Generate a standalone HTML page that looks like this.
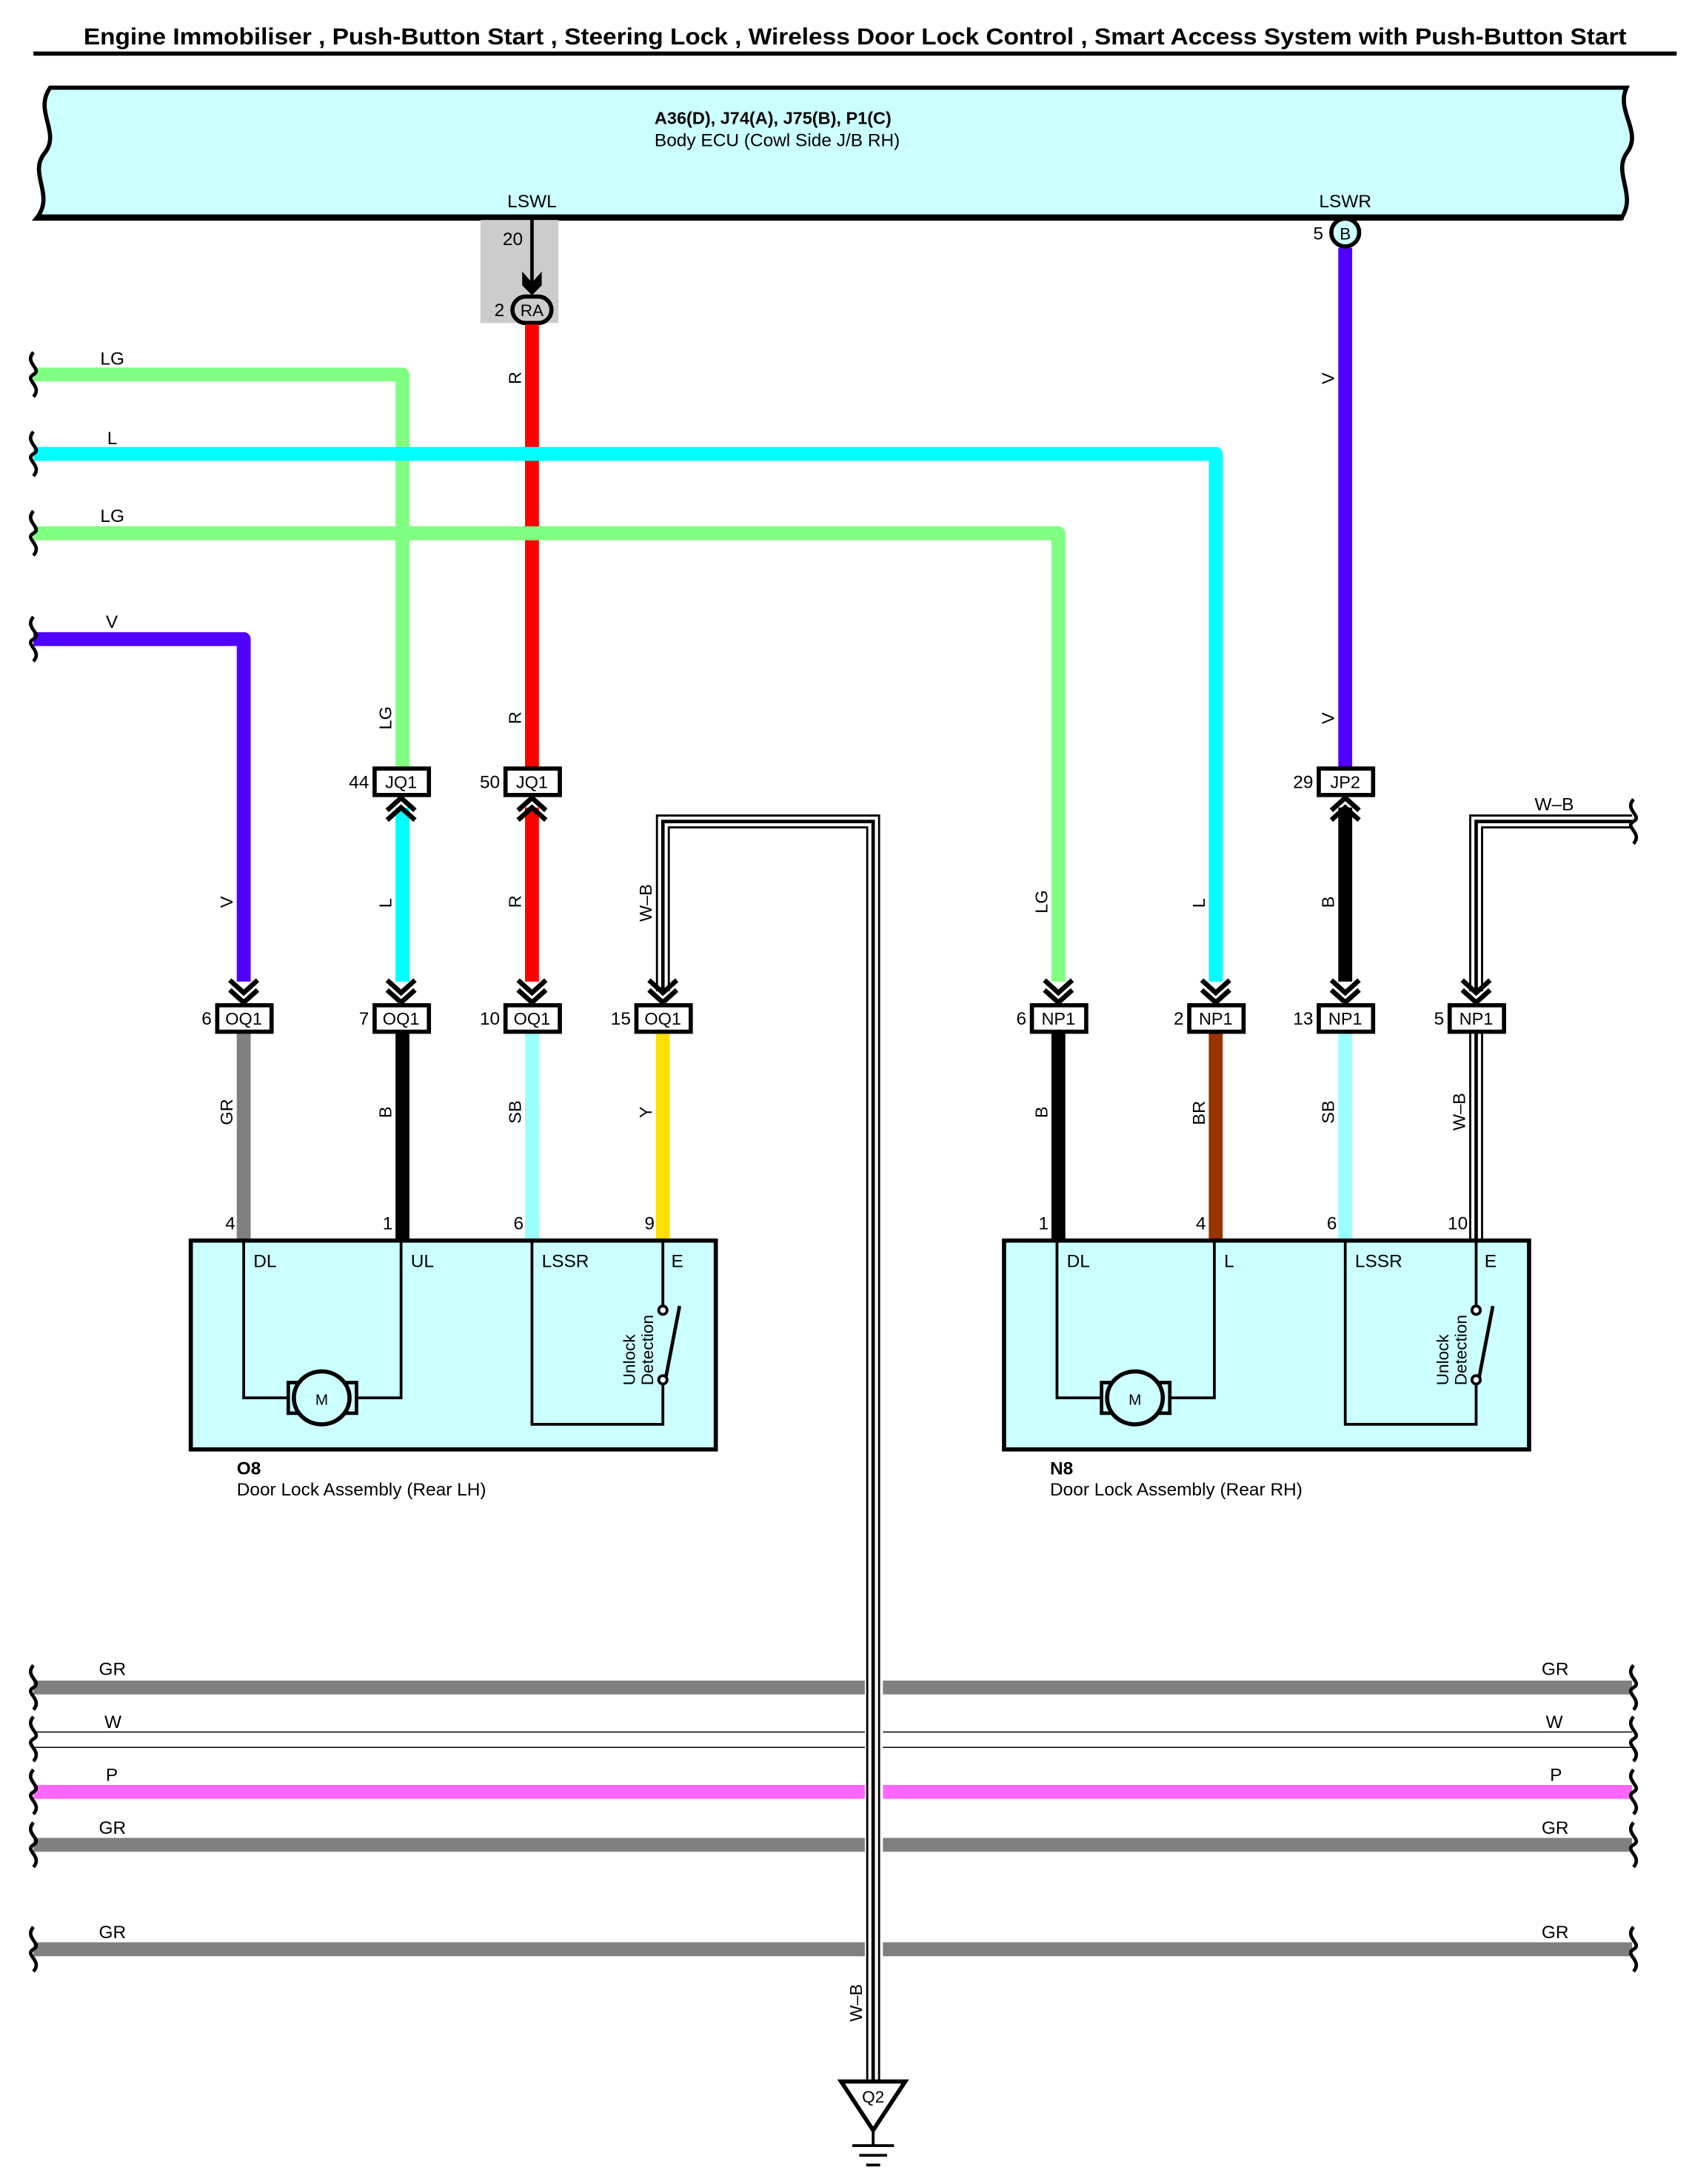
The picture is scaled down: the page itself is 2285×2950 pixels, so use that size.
<!DOCTYPE html>
<html><head><meta charset="utf-8"><style>html,body{margin:0;padding:0;background:#fff}svg{display:block}text{font-family:"Liberation Sans",Arial,sans-serif}</style></head>
<body>
<svg width="2285" height="2950" viewBox="0 0 1215 1568.6" xmlns="http://www.w3.org/2000/svg">
<defs>
<g id="cd" fill="none" stroke="#000" stroke-width="3.5"><polyline points="-10,-17 0,-8 10,-17"/><polyline points="-10,-10 0,-1 10,-10"/></g>
<g id="cu" fill="none" stroke="#000" stroke-width="3.5"><polyline points="-10,17 0,8 10,17"/><polyline points="-10,10 0,1 10,10"/></g>
<path id="brace" d="M0,-16 C-7,-8 7,-4 0,0 C-7,4 7,8 0,16" fill="none" stroke="#000" stroke-width="2.5"/>
</defs>
<g font-size="13" fill="#000">
<text x="60" y="32" textLength="1108" lengthAdjust="spacingAndGlyphs" font-weight="bold" font-size="16.5">Engine Immobiliser , Push-Button Start , Steering Lock , Wireless Door Lock Control , Smart Access System with Push-Button Start</text>
<rect x="24" y="37" width="1180" height="3" fill="#000"/>

<path d="M36,63 H1168 C1160,80 1180,95 1168,110 C1158,125 1176,140 1164,157 H26 C40,140 20,125 32,110 C44,95 24,80 36,63 Z" fill="#ccffff" stroke="#000" stroke-width="3"/>
<rect x="28" y="154" width="1138" height="4" fill="#000"/>
<text x="470" y="89" font-weight="bold" font-size="12.5">A36(D), J74(A), J75(B), P1(C)</text>
<text x="470" y="105">Body ECU (Cowl Side J/B RH)</text>
<text x="382" y="149" text-anchor="middle">LSWL</text>
<text x="966" y="149" text-anchor="middle">LSWR</text>

<rect x="345" y="158" width="56" height="74" fill="#cccccc"/>
<text x="361" y="176">20</text>
<line x1="382" y1="158" x2="382" y2="205" stroke="#000" stroke-width="2.5"/>
<path d="M375,195 L382,203 L389,195 L389,205 L382,212 L375,205 Z" fill="#000"/>
<rect x="368" y="213" width="28" height="19" rx="9.5" fill="#ccc" stroke="#000" stroke-width="3"/>
<text x="382" y="227" text-anchor="middle" font-size="12">RA</text>
<text x="355" y="227">2</text>

<g fill="none" stroke-linejoin="round" stroke-width="10">
<path d="M382,233 V552" stroke="#ff0000"/>
<path d="M966,178 V552" stroke="#5000ff"/>
<path d="M24,269 H289 V552" stroke="#80ff80"/>
<path d="M24,326 H873 V705" stroke="#00ffff"/>
<path d="M24,383 H760 V705" stroke="#80ff80"/>
<path d="M24,459 H175 V705" stroke="#5000ff"/>
<path d="M289,580 V705" stroke="#00ffff"/>
<path d="M382,580 V705" stroke="#ff0000"/>
<path d="M966,580 V705" stroke="#000"/>
<path d="M175,740 V891" stroke="#808080"/>
<path d="M289,740 V891" stroke="#000"/>
<path d="M382,740 V891" stroke="#99ffff"/>
<path d="M476,740 V891" stroke="#ffe000"/>
<path d="M760,740 V891" stroke="#000"/>
<path d="M873,740 V891" stroke="#993300"/>
<path d="M966,740 V891" stroke="#99ffff"/>
</g>
<circle cx="966" cy="167" r="10" fill="#ccffff" stroke="#000" stroke-width="3"/>
<text x="966" y="172" text-anchor="middle" font-size="12">B</text>
<text x="943" y="172">5</text>

<use href="#brace" x="24" y="269"/><use href="#brace" x="24" y="326"/><use href="#brace" x="24" y="383"/><use href="#brace" x="24" y="459"/>
<text x="72" y="262">LG</text><text x="77" y="319">L</text><text x="72" y="375">LG</text><text x="76" y="451">V</text>

<g fill="none">
<path d="M476,712 V590 H627 V1495" stroke="#000" stroke-width="10"/>
<path d="M476,712 V590 H627 V1495" stroke="#fff" stroke-width="7"/>
<path d="M476,712 V590 H627 V1495" stroke="#000" stroke-width="2.5"/>
<path d="M1060,712 V590 H1172" stroke="#000" stroke-width="10"/>
<path d="M1060,712 V590 H1172" stroke="#fff" stroke-width="7"/>
<path d="M1060,712 V590 H1172" stroke="#000" stroke-width="2.5"/>
<path d="M1060,740 V891" stroke="#000" stroke-width="10"/>
<path d="M1060,740 V891" stroke="#fff" stroke-width="7"/>
<path d="M1060,740 V891" stroke="#000" stroke-width="2.5"/>
</g>
<use href="#brace" x="1173" y="590"/>
<text x="1102" y="582">W–B</text>

<g fill="#fff" stroke="#000" stroke-width="3">
<rect x="269" y="552" width="39" height="19"/><rect x="363" y="552" width="39" height="19"/><rect x="947" y="552" width="39" height="19"/>
<rect x="156" y="722" width="39" height="19"/><rect x="269" y="722" width="39" height="19"/><rect x="363" y="722" width="39" height="19"/><rect x="457" y="722" width="39" height="19"/>
<rect x="741" y="722" width="39" height="19"/><rect x="854" y="722" width="39" height="19"/><rect x="947" y="722" width="39" height="19"/><rect x="1041" y="722" width="39" height="19"/>
</g>
<g text-anchor="middle" font-size="12.5">
<text x="288" y="566">JQ1</text><text x="382" y="566">JQ1</text><text x="966" y="566">JP2</text>
<text x="175" y="736">OQ1</text><text x="288" y="736">OQ1</text><text x="382" y="736">OQ1</text><text x="476" y="736">OQ1</text>
<text x="760" y="736">NP1</text><text x="873" y="736">NP1</text><text x="966" y="736">NP1</text><text x="1060" y="736">NP1</text>
</g>
<g text-anchor="end">
<text x="265" y="566">44</text><text x="359" y="566">50</text><text x="943" y="566">29</text>
<text x="152" y="736">6</text><text x="265" y="736">7</text><text x="359" y="736">10</text><text x="453" y="736">15</text>
<text x="737" y="736">6</text><text x="850" y="736">2</text><text x="943" y="736">13</text><text x="1037" y="736">5</text>
</g>
<use href="#cu" x="288" y="572"/><use href="#cu" x="382" y="572"/><use href="#cu" x="966" y="572"/>
<use href="#cd" x="175" y="721"/><use href="#cd" x="288" y="721"/><use href="#cd" x="382" y="721"/><use href="#cd" x="476" y="721"/>
<use href="#cd" x="760" y="721"/><use href="#cd" x="873" y="721"/><use href="#cd" x="966" y="721"/><use href="#cd" x="1060" y="721"/>

<g font-size="12.5">
<text transform="translate(374,276) rotate(-90)">R</text>
<text transform="translate(958,276) rotate(-90)">V</text>
<text transform="translate(281,524) rotate(-90)">LG</text>
<text transform="translate(374,520) rotate(-90)">R</text>
<text transform="translate(958,520) rotate(-90)">V</text>
<text transform="translate(167,652) rotate(-90)">V</text>
<text transform="translate(281,652) rotate(-90)">L</text>
<text transform="translate(374,652) rotate(-90)">R</text>
<text transform="translate(468,662) rotate(-90)">W–B</text>
<text transform="translate(752,656) rotate(-90)">LG</text>
<text transform="translate(865,652) rotate(-90)">L</text>
<text transform="translate(958,652) rotate(-90)">B</text>
<text transform="translate(167,808) rotate(-90)">GR</text>
<text transform="translate(281,803) rotate(-90)">B</text>
<text transform="translate(374,807) rotate(-90)">SB</text>
<text transform="translate(468,803) rotate(-90)">Y</text>
<text transform="translate(752,803) rotate(-90)">B</text>
<text transform="translate(865,808) rotate(-90)">BR</text>
<text transform="translate(958,807) rotate(-90)">SB</text>
<text transform="translate(1052,812) rotate(-90)">W–B</text>
<text transform="translate(619,1452) rotate(-90)">W–B</text>
</g>
<g text-anchor="end"><text x="169" y="883">4</text><text x="282" y="883">1</text><text x="376" y="883">6</text><text x="470" y="883">9</text>
<text x="753" y="883">1</text><text x="866" y="883">4</text><text x="960" y="883">6</text><text x="1054" y="883">10</text></g>

<rect x="137" y="891" width="377" height="150" fill="#ccffff" stroke="#000" stroke-width="3"/>
<g fill="none" stroke="#000" stroke-width="2">
<path d="M175,891 V1004 H207"/><path d="M288,891 V1004 H256"/>
<path d="M382,891 V1023 H476 V992"/><path d="M476,891 V940"/>
<line x1="478" y1="990" x2="488" y2="938" stroke-width="2.5"/>
<circle cx="476" cy="941" r="3" fill="#fff"/><circle cx="476" cy="991" r="3" fill="#fff"/>
<rect x="207" y="993" width="7" height="22" stroke-width="2.5"/><rect x="249" y="993" width="7" height="22" stroke-width="2.5"/>
<ellipse cx="231" cy="1004" rx="20" ry="19" fill="#ccffff" stroke-width="3"/>
</g>
<text x="231" y="1009" text-anchor="middle" font-size="11">M</text>
<text x="182" y="910">DL</text><text x="295" y="910">UL</text><text x="389" y="910">LSSR</text><text x="482" y="910">E</text>
<text transform="translate(456,995) rotate(-90)" font-size="12">Unlock</text>
<text transform="translate(469,995) rotate(-90)" font-size="12">Detection</text>
<text x="170" y="1059" font-weight="bold">O8</text>
<text x="170" y="1074">Door Lock Assembly (Rear LH)</text>

<rect x="721" y="891" width="377" height="150" fill="#ccffff" stroke="#000" stroke-width="3"/>
<g fill="none" stroke="#000" stroke-width="2">
<path d="M759,891 V1004 H791"/><path d="M872,891 V1004 H840"/>
<path d="M966,891 V1023 H1060 V992"/><path d="M1060,891 V940"/>
<line x1="1062" y1="990" x2="1072" y2="938" stroke-width="2.5"/>
<circle cx="1060" cy="941" r="3" fill="#fff"/><circle cx="1060" cy="991" r="3" fill="#fff"/>
<rect x="791" y="993" width="7" height="22" stroke-width="2.5"/><rect x="833" y="993" width="7" height="22" stroke-width="2.5"/>
<ellipse cx="815" cy="1004" rx="20" ry="19" fill="#ccffff" stroke-width="3"/>
</g>
<text x="815" y="1009" text-anchor="middle" font-size="11">M</text>
<text x="766" y="910">DL</text><text x="879" y="910">L</text><text x="973" y="910">LSSR</text><text x="1066" y="910">E</text>
<text transform="translate(1040,995) rotate(-90)" font-size="12">Unlock</text>
<text transform="translate(1053,995) rotate(-90)" font-size="12">Detection</text>
<text x="754" y="1059" font-weight="bold">N8</text>
<text x="754" y="1074">Door Lock Assembly (Rear RH)</text>

<g stroke-width="10">
<line x1="24" y1="1212" x2="621" y2="1212" stroke="#808080"/><line x1="634" y1="1212" x2="1172" y2="1212" stroke="#808080"/>
<line x1="24" y1="1287" x2="621" y2="1287" stroke="#ff66ff"/><line x1="634" y1="1287" x2="1172" y2="1287" stroke="#ff66ff"/>
<line x1="24" y1="1325" x2="621" y2="1325" stroke="#808080"/><line x1="634" y1="1325" x2="1172" y2="1325" stroke="#808080"/>
<line x1="24" y1="1400" x2="621" y2="1400" stroke="#808080"/><line x1="634" y1="1400" x2="1172" y2="1400" stroke="#808080"/>
</g>
<g stroke="#000" stroke-width="0.8">
<line x1="24" y1="1244" x2="621" y2="1244"/><line x1="634" y1="1244" x2="1172" y2="1244"/>
<line x1="24" y1="1255" x2="621" y2="1255"/><line x1="634" y1="1255" x2="1172" y2="1255"/>
</g>
<use href="#brace" x="24" y="1212"/><use href="#brace" x="24" y="1249"/><use href="#brace" x="24" y="1287"/><use href="#brace" x="24" y="1325"/><use href="#brace" x="24" y="1400"/>
<use href="#brace" x="1173" y="1212"/><use href="#brace" x="1173" y="1249"/><use href="#brace" x="1173" y="1287"/><use href="#brace" x="1173" y="1325"/><use href="#brace" x="1173" y="1400"/>
<text x="71" y="1203">GR</text><text x="75" y="1241">W</text><text x="76" y="1279">P</text><text x="71" y="1317">GR</text><text x="71" y="1392">GR</text>
<text x="1107" y="1203">GR</text><text x="1110" y="1241">W</text><text x="1113" y="1279">P</text><text x="1107" y="1317">GR</text><text x="1107" y="1392">GR</text>

<path d="M604,1495 H650 L627,1530 Z" fill="#fff" stroke="#000" stroke-width="3"/>
<text x="627" y="1510" text-anchor="middle" font-size="12">Q2</text>
<g stroke="#000" stroke-width="2"><line x1="627" y1="1530" x2="627" y2="1541"/><line x1="612" y1="1541" x2="642" y2="1541"/><line x1="617" y1="1548" x2="637" y2="1548"/><line x1="622" y1="1555" x2="632" y2="1555"/></g>
</g>
</svg>
</body></html>
